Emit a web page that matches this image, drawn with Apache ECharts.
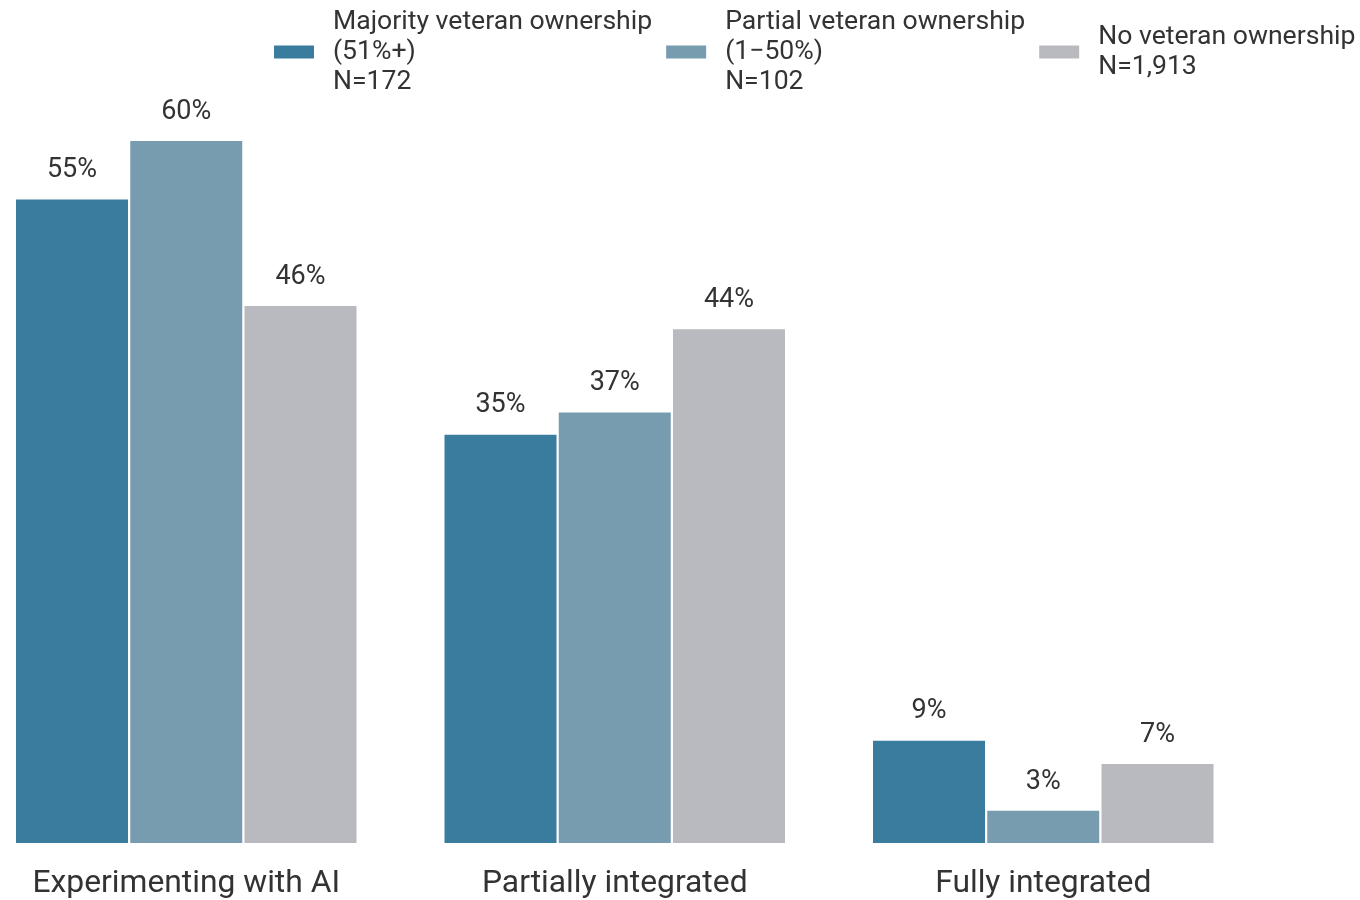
<!DOCTYPE html>
<html><head><meta charset="utf-8">
<script src="https://cdn.jsdelivr.net/npm/echarts@6/dist/echarts.min.js"></script>
<style>html,body{margin:0;padding:0;background:#fff;overflow:hidden}#c{position:absolute;left:-28px;top:0;width:1388px;height:900px}</style>
</head><body><div id="c"></div>
<script>
const categories = ['Experimenting with AI', 'Partially integrated', 'Fully integrated'];
const seriesNames = ['Majority veteran ownership\n(51%+)\nN=172', 'Partial veteran ownership\n(1\u221250%)\nN=102', 'No veteran ownership\nN=1,913'];
const majority = [55.0, 34.9, 8.75];
const partial = [60.0, 36.8, 2.75];
const none = [45.9, 43.9, 6.75];
const colors = ['#397C9E', '#789CAF', '#B9BABF'];

const chart = echarts.init(document.getElementById('c'));
const textColor = '#333333';
const font = 'Roboto, "Noto Sans", sans-serif';
function mk(name, data, color) {
  return {
    name, type: 'bar', data, barWidth: 112, barGap: '2%',
    itemStyle: { color },
    label: { show: true, position: 'top', distance: 15.5, color: textColor, fontSize: 27, fontFamily: font,
      formatter: p => Math.round(p.value) + '%' }
  };
}
chart.setOption({
  animation: false,
  textStyle: { fontFamily: font },
  legend: {
    top: 7, left: 302, width: 1200, padding: 0, itemWidth: 40, itemHeight: 13, itemGap: 14,
    icon: 'rect',
    textStyle: { color: textColor, fontSize: 26.6, lineHeight: 30, fontFamily: font, padding: [0, 0, 0, 14] },
    data: seriesNames
  },
  grid: { left: 0, right: 102.5, top: 141, bottom: 57, containLabel: false },
  xAxis: {
    type: 'category', data: categories,
    axisLine: { show: false }, axisTick: { show: false },
    axisLabel: { color: textColor, fontSize: 31.8, margin: 25, fontFamily: font }
  },
  yAxis: { type: 'value', min: 0, max: 60, show: false, splitLine: { show: false } },
  series: [mk(seriesNames[0], majority, colors[0]), mk(seriesNames[1], partial, colors[1]), mk(seriesNames[2], none, colors[2])]
});
</script></body></html>
